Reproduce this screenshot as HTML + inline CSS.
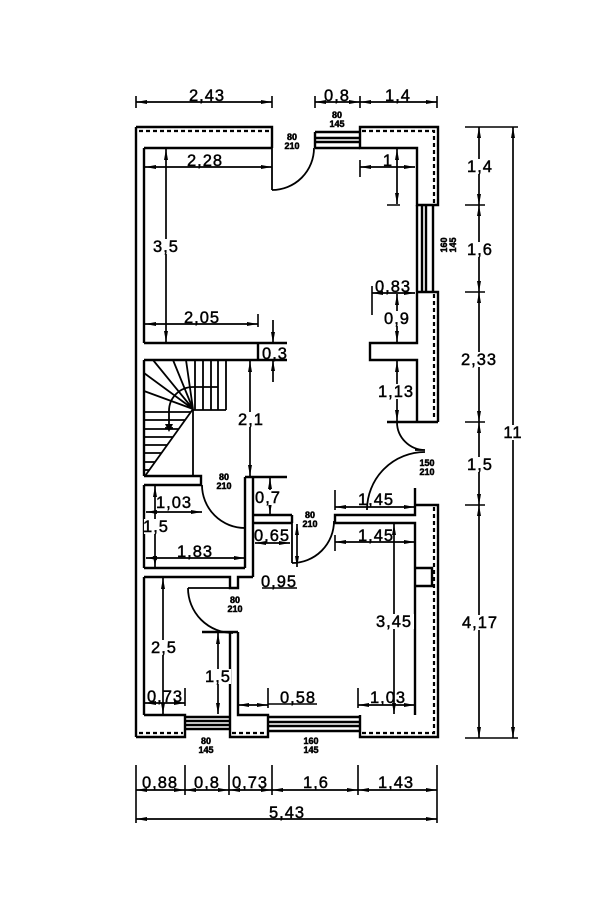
<!DOCTYPE html>
<html><head><meta charset="utf-8"><style>
html,body{margin:0;padding:0;background:#fff;}
svg{display:block;}
text{font-family:"Liberation Sans","Noto Sans CJK SC",sans-serif;}
.t{font-size:16.5px;letter-spacing:1px;text-anchor:middle;fill:#000;stroke:#000;stroke-width:0.45px;}
.l{font-size:9px;font-weight:bold;text-anchor:middle;fill:#000;stroke:#000;stroke-width:0.5px;}
</style></head><body>
<svg width="600" height="900" viewBox="0 0 600 900" xmlns="http://www.w3.org/2000/svg">
<defs>
<marker id="a" viewBox="0 0 11 4" refX="11" refY="2" markerWidth="11" markerHeight="4" markerUnits="userSpaceOnUse" orient="auto-start-reverse"><path d="M0,0L11,2L0,4z" fill="#000"/></marker>
</defs>
<rect width="600" height="900" fill="#fff"/>

<!-- WALLS -->
<g stroke="#000" stroke-width="2.4" fill="none" stroke-linejoin="miter">
<path d="M136,127V737"/>
<path d="M136,127H272V148M144,148H272"/>
<path d="M144,148V343M144,360V476M144,485V568M144,577V715"/>
<path d="M360,127H438V205H417V148H360Z"/>
<path d="M315,132H360M315,138H360M315,142H360M315,148H360M315,132V148"/>
<path d="M417,205V292M422,205V292M426,205V292M433,205V292"/>
<path d="M417,292H438V422M417,292V343H370V360H417V422M387,422H438"/>
<path d="M415,488V515H335V523H415V715"/>
<path d="M415,505H438V737H360V715"/>
<path d="M415,568H432V586H415"/>
<path d="M268,717H360M268,722H360M268,726H360M268,731H360"/>
<path d="M238,632V715H268V737H230V632H238M202,632H230"/>
<path d="M185,717H230M185,721H230M185,725H230M185,729H230"/>
<path d="M136,737H185V715H144"/>
<path d="M144,568H245M144,577H230V588H238V577H253"/>
<path d="M245,477V568M253,477V577M245,477H287"/>
<path d="M253,515H292M253,523H292M292,515V523"/>
<path d="M144,476H201V485H144"/>
<path d="M144,343H287M144,360H287M258,343V360"/>
</g>

<!-- HATCH -->
<g stroke="#000" stroke-width="2.2" fill="none" stroke-dasharray="4 3">
<path d="M139,131H270"/>
<path d="M362,131H434V203"/>
<path d="M434,294V420"/>
<path d="M434,507V733H362"/>
<path d="M232,733H266"/>
<path d="M139,733H183"/>
</g>

<!-- DOORS -->
<g stroke="#000" stroke-width="1.8" fill="none">
<path d="M272,148V190M272,190A42,42 0 0,0 314,148"/>
<path d="M202,485A43,43 0 0,0 245,528"/>
<path d="M292,523V563M334,521A42,42 0 0,1 292,563"/>
<path d="M188,588H233M188,588A45,45 0 0,0 233,633"/>
<path d="M397,422A28,28 0 0,0 425,450M415,450H425M425,452A58,58 0 0,0 367,510"/>
</g>

<!-- STAIRS -->
<g stroke="#000" stroke-width="1.8" fill="none">
<path d="M195,360V410M203,360V410M211,360V410M218,360V410M226,360V410M193,410H226"/>
<path d="M193,409V477"/>
<path d="M193,409L145,476"/>
<path d="M193,409L153,360M193,409L173,360M193,409L186,360M193,409L144,373M193,409L144,391"/>
<path d="M144,412H191M144,420H185M144,429H179M144,437H173M144,445H167M144,453H161M144,462H155M144,470H149"/>
<path d="M169,425V411A24,24 0 0,1 193,387H218"/>
<path d="M165,428H173"/>
</g>
<path d="M165,424L173,424L169,432Z" fill="#000"/>

<!-- DIMENSION LINES -->
<g stroke="#000" stroke-width="1.7" fill="none" marker-start="url(#a)" marker-end="url(#a)">
<line x1="136" y1="102" x2="272" y2="102"/>
<line x1="315" y1="102" x2="360" y2="102"/>
<line x1="360" y1="102" x2="437" y2="102"/>
<line x1="145" y1="167" x2="272" y2="167"/>
<line x1="166" y1="149" x2="166" y2="342"/>
<line x1="145" y1="324" x2="258" y2="324"/>
<line x1="250" y1="361" x2="250" y2="476"/>
<line x1="360" y1="167" x2="415" y2="167"/>
<line x1="397" y1="149" x2="397" y2="204"/>
<line x1="372" y1="293" x2="415" y2="293"/>
<line x1="397" y1="294" x2="397" y2="342"/>
<line x1="397" y1="361" x2="397" y2="421"/>
<line x1="335" y1="507" x2="415" y2="507"/>
<line x1="270" y1="478" x2="270" y2="514"/>
<line x1="146" y1="512" x2="202" y2="512"/>
<line x1="155" y1="486" x2="155" y2="567"/>
<line x1="146" y1="558" x2="245" y2="558"/>
<line x1="255" y1="543" x2="290" y2="543"/>
<line x1="297" y1="524" x2="297" y2="567"/>
<line x1="335" y1="542" x2="415" y2="542"/>
<line x1="394" y1="524" x2="394" y2="714"/>
<line x1="358" y1="705" x2="415" y2="705"/>
<line x1="238" y1="705" x2="268" y2="705"/>
<line x1="145" y1="703" x2="185" y2="703"/>
<line x1="163" y1="578" x2="163" y2="714"/>
<line x1="218" y1="633" x2="218" y2="714"/>
<line x1="479" y1="127" x2="479" y2="205"/>
<line x1="479" y1="205" x2="479" y2="292"/>
<line x1="479" y1="292" x2="479" y2="422"/>
<line x1="479" y1="422" x2="479" y2="505"/>
<line x1="479" y1="505" x2="479" y2="738"/>
<line x1="513" y1="127" x2="513" y2="738"/>
<line x1="136" y1="790" x2="185" y2="790"/>
<line x1="185" y1="790" x2="229" y2="790"/>
<line x1="229" y1="790" x2="272" y2="790"/>
<line x1="272" y1="790" x2="358" y2="790"/>
<line x1="358" y1="790" x2="437" y2="790"/>
<line x1="136" y1="819" x2="437" y2="819"/>
</g>
<g stroke="#000" stroke-width="1.7" fill="none">
<line x1="273" y1="320" x2="273" y2="343" marker-end="url(#a)"/>
<line x1="273" y1="382" x2="273" y2="360" marker-end="url(#a)"/>
</g>

<!-- EXTENSION LINES -->
<g stroke="#000" stroke-width="1.6" fill="none">
<path d="M136,96V108M272,96V108M315,96V108M360,96V108M437,96V108"/>
<path d="M465,127H518M465,205H485M465,292H485M465,422H485M465,505H485M465,738H518"/>
<path d="M136,765V823M185,765V795M229,765V795M272,765V795M358,765V795M437,765V823"/>
<path d="M258,314V327M360,160V177M387,205H400M372,286V315"/>
<path d="M335,490V510M415,488V505M335,535V551"/>
<path d="M358,688V708M268,688V708M185,688V706"/>
<path d="M262,588H297M268,704H317"/>
</g>

<!-- white backgrounds for texts on lines -->
<g fill="#fff">
<rect x="153" y="239" width="27" height="15"/>
<rect x="238" y="412" width="27" height="15"/>
<rect x="383" y="311" width="28" height="15"/>
<rect x="378" y="384" width="36" height="15"/>
<rect x="256" y="490" width="24" height="15"/>
<rect x="144" y="519" width="24" height="15"/>
<rect x="375" y="614" width="39" height="15"/>
<rect x="205" y="669" width="26" height="15"/>
<rect x="151" y="640" width="27" height="15"/>
<rect x="467" y="159" width="26" height="15"/>
<rect x="467" y="242" width="26" height="15"/>
<rect x="460" y="352" width="38" height="15"/>
<rect x="467" y="457" width="26" height="15"/>
<rect x="461" y="615" width="38" height="15"/>
<rect x="505" y="425" width="17" height="15"/>
</g>

<!-- DIMENSION TEXT -->
<g>
<text class="t" x="207" y="101">2,43</text>
<text class="t" x="337" y="101">0,8</text>
<text class="t" x="398" y="101">1,4</text>
<text class="t" x="205" y="166">2,28</text>
<text class="t" x="166" y="252">3,5</text>
<text class="t" x="202" y="323">2,05</text>
<text class="t" x="275" y="359">0,3</text>
<text class="t" x="251" y="425">2,1</text>
<text class="t" x="388" y="166">1</text>
<text class="t" x="393" y="292">0,83</text>
<text class="t" x="397" y="324">0,9</text>
<text class="t" x="396" y="397">1,13</text>
<text class="t" x="376" y="505">1,45</text>
<text class="t" x="268" y="503">0,7</text>
<text class="t" x="174" y="508">1,03</text>
<text class="t" x="156" y="532">1,5</text>
<text class="t" x="195" y="557">1,83</text>
<text class="t" x="272" y="541">0,65</text>
<text class="t" x="279" y="587">0,95</text>
<text class="t" x="376" y="541">1,45</text>
<text class="t" x="394" y="627">3,45</text>
<text class="t" x="388" y="703">1,03</text>
<text class="t" x="298" y="703">0,58</text>
<text class="t" x="165" y="702">0,73</text>
<text class="t" x="218" y="682">1,5</text>
<text class="t" x="164" y="653">2,5</text>
<text class="t" x="480" y="172">1,4</text>
<text class="t" x="480" y="255">1,6</text>
<text class="t" x="479" y="365">2,33</text>
<text class="t" x="480" y="470">1,5</text>
<text class="t" x="480" y="628">4,17</text>
<text class="t" x="513" y="438">11</text>
<text class="t" x="160" y="788">0,88</text>
<text class="t" x="207" y="788">0,8</text>
<text class="t" x="250" y="788">0,73</text>
<text class="t" x="316" y="788">1,6</text>
<text class="t" x="396" y="788">1,43</text>
<text class="t" x="287" y="818">5,43</text>
</g>

<!-- DOOR / WINDOW LABELS -->
<text class="l" x="292" y="140">80<tspan x="292" dy="9">210</tspan></text>
<text class="l" x="337" y="118">80<tspan x="337" dy="9">145</tspan></text>
<text class="l" x="427" y="466">150<tspan x="427" dy="9">210</tspan></text>
<text class="l" x="224" y="480">80<tspan x="224" dy="9">210</tspan></text>
<text class="l" x="310" y="518">80<tspan x="310" dy="9">210</tspan></text>
<text class="l" x="235" y="603">80<tspan x="235" dy="9">210</tspan></text>
<text class="l" x="206" y="744">80<tspan x="206" dy="9">145</tspan></text>
<text class="l" x="311" y="744">160<tspan x="311" dy="9">145</tspan></text>
<text class="l" transform="translate(448,245) rotate(-90)" x="0" y="-1">160<tspan x="0" dy="9">145</tspan></text>
</svg>
</body></html>
